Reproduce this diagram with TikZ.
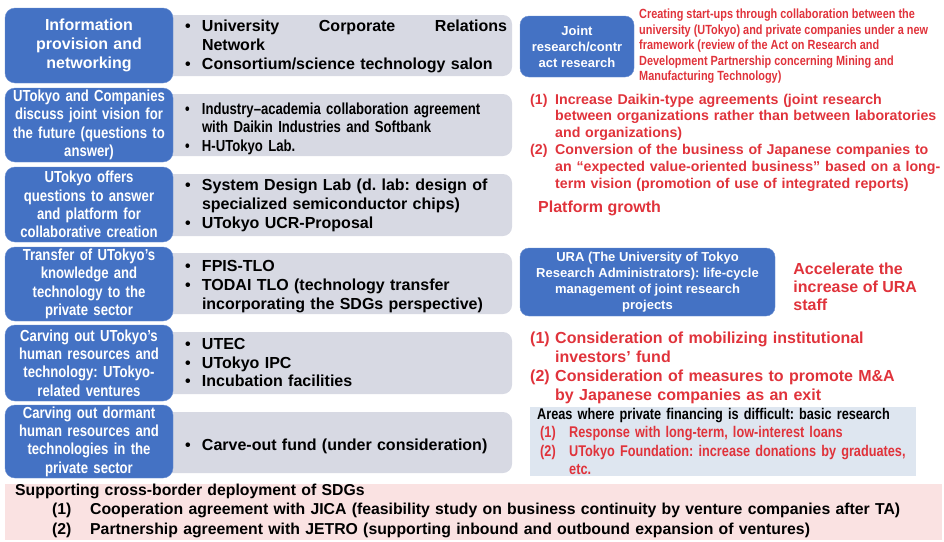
\documentclass[tikz,border=0pt]{standalone}
\usepackage{fontspec}
\setmainfont{Liberation Sans}
\newfontfamily\narrowsans[FakeStretch=0.82]{Liberation Sans}
\usetikzlibrary{positioning, calc}
\definecolor{roleblue}{HTML}{4472C4}
\definecolor{toolgrey}{HTML}{D7D9E3}
\definecolor{alertred}{HTML}{E0333B}
\definecolor{notebg}{HTML}{DEE6F0}
\definecolor{sdgbg}{HTML}{FAE2E2}
\frenchspacing
% list entry: indent, label width, label
\newcommand{\listitem}[3]{\par\noindent\hangindent=\dimexpr#1+#2\relax\hangafter=1\hspace*{#1}\makebox[#2][l]{#3}\ignorespaces}
\newcommand{\bul}{\listitem{0pt}{17pt}{\textbullet}}
\tikzset{
    rolebox/.style={rectangle, draw=roleblue!80!white, fill=roleblue, rounded corners=10pt, minimum width=168pt, text width=162pt, inner sep=0pt, align=center, text=white, font=\narrowsans\bfseries\fontsize{16}{18.3}\selectfont},
    toolbar/.style={rectangle, fill=toolgrey, rounded corners=9pt, minimum width=352pt, inner sep=0pt},
    tooltext/.style={anchor=west, inner sep=0pt, text width=322pt, align=left, font=\bfseries\fontsize{16}{18.8}\selectfont},
    infobox/.style={rectangle, draw=roleblue!80!white, fill=roleblue, rounded corners=9pt, inner sep=0pt, align=center, text=white, font=\bfseries\fontsize{13}{16}\selectfont},
    redtext/.style={inner sep=0pt, align=left, text=alertred, font=\bfseries\fontsize{16}{18.7}\selectfont},
    panel/.style={rectangle, inner sep=0pt}
}

\begin{document}
\begin{tikzpicture}[x=1pt, y=-1pt]
    \useasboundingbox (0,0) rectangle (944,541);
    % grey bars behind the blue boxes
    \node [toolbar, minimum height=61pt] (g1) at (336,45.5) {};
    \node [toolbar, minimum height=62pt] (g2) at (336,125) {};
    \node [toolbar, minimum height=62pt] (g3) at (336,205) {};
    \node [toolbar, minimum height=61pt] (g4) at (336,283.5) {};
    \node [toolbar, minimum height=62pt] (g5) at (336,363) {};
    \node [toolbar, minimum height=61pt] (g6) at (336,442.5) {};

    \node [tooltext, yshift=3pt] (t1) at ([xshift=25pt]g1.west) {\bul University\hfill Corporate\hfill Relations\newline Network\bul Consortium/science technology salon\par};
    \node [tooltext, font=\narrowsans\bfseries\fontsize{16}{18.5}\selectfont] (t2) at ([xshift=25pt]g2.west) {\bul Industry–academia collaboration agreement\newline with Daikin Industries and Softbank\bul H-UTokyo Lab.\par};
    \node [tooltext, yshift=3pt] (t3) at ([xshift=25pt]g3.west) {\bul System Design Lab (d. lab: design of\newline specialized semiconductor chips)\bul UTokyo UCR-Proposal\par};
    \node [tooltext, yshift=1pt] (t4) at ([xshift=25pt]g4.west) {\bul FPIS-TLO\bul TODAI TLO (technology transfer\newline incorporating the SDGs perspective)\par};
    \node [tooltext, yshift=4pt, font=\bfseries\fontsize{16}{18.5}\selectfont] (t5) at ([xshift=25pt]g5.west) {\bul UTEC\bul UTokyo IPC\bul Incubation facilities\par};
    \node [tooltext] (t6) at ([xshift=25pt]g6.west) {\bul Carve-out fund (under consideration)\par};

    % blue boxes on the left
    \node [rolebox, minimum height=75pt, font=\bfseries\fontsize{16}{19}\selectfont] (info) at (89,45.5) {Information\\provision and\\networking};
    \node [rolebox, minimum height=74pt] (vision) at (89,125) {UTokyo and Companies\\discuss joint vision for\\the future (questions to\\answer)};
    \node [rolebox, minimum height=75pt] (offer) at (89,204.5) {UTokyo offers\\questions to answer\\and platform for\\collaborative creation};
    \node [rolebox, minimum height=74pt] (transfer) at (89,284) {Transfer of UTokyo’s\\knowledge and\\technology to the\\private sector};
    \node [rolebox, minimum height=76pt] (venture) at (89,363) {Carving out UTokyo’s\\human resources and\\technology: UTokyo-\\related ventures};
    \node [rolebox, minimum height=73pt] (dormant) at (89,441.5) {Carving out dormant\\human resources and\\technologies in the\\private sector};

    % right column
    \node [infobox, minimum width=114pt, minimum height=61pt] (joint) at (577,46.5) {Joint\\research/contr\\act research};
    \node [redtext, anchor=north west, font=\narrowsans\bfseries\fontsize{13.3}{15.5}\selectfont] (frame) at (639,9) {Creating start-ups through collaboration between the\\university (UTokyo) and private companies under a new\\framework (review of the Act on Research and\\Development Partnership concerning Mining and\\Manufacturing Technology)};
    \node [redtext, anchor=north west, text width=430pt, font=\bfseries\fontsize{14.2}{16.8}\selectfont] (daikin) at (530,87) {\listitem{0pt}{25pt}{(1)}Increase Daikin-type agreements (joint research\newline between organizations rather than between laboratories\newline and organizations)\listitem{0pt}{25pt}{(2)}Conversion of the business of Japanese companies to\newline an “expected value-oriented business” based on a long-\newline term vision (promotion of use of integrated reports)\par};
    \node [redtext, anchor=west] (growth) at (538,208) {Platform growth};

    \node [infobox, minimum width=255pt, minimum height=68pt] (ura) at (647.5,282) {URA (The University of Tokyo\\Research Administrators): life-cycle\\management of joint research\\projects};
    \node [redtext, right=18pt of ura, yshift=-5pt, font=\bfseries\fontsize{16}{18}\selectfont] (accel) {Accelerate the\\increase of URA\\staff};

    \node [redtext, anchor=north west, text width=420pt] (exit) at (530,325) {\listitem{0pt}{25pt}{(1)}Consideration of mobilizing institutional\newline investors’ fund\listitem{0pt}{25pt}{(2)}Consideration of measures to promote M\&A\newline by Japanese companies as an exit\par};

    \node [panel, fill=notebg, minimum width=386pt, minimum height=69pt] (basic) at (723,441.5) {};
    \node [anchor=north west, inner sep=0pt, text width=380pt, align=left, font=\narrowsans\bfseries\fontsize{15.5}{18.3}\selectfont] (basictext) at (537,408) {Areas where private financing is difficult: basic research{\color{alertred}\listitem{3pt}{29pt}{(1)}Response with long-term, low-interest loans\listitem{3pt}{29pt}{(2)}UTokyo Foundation: increase donations by graduates,\newline etc.\par}};

    % bottom band
    \node [panel, fill=sdgbg, minimum width=937pt, minimum height=56pt] (sdg) at (473.5,512) {};
    \node [anchor=north west, inner sep=0pt, text width=925pt, align=left, font=\bfseries\fontsize{15.8}{19.5}\selectfont] (sdgtext) at (15,483.5) {Supporting cross-border deployment of SDGs\listitem{37pt}{38pt}{(1)}Cooperation agreement with JICA (feasibility study on business continuity by venture companies after TA)\listitem{37pt}{38pt}{(2)}Partnership agreement with JETRO (supporting inbound and outbound expansion of ventures)\par};
\end{tikzpicture}
\end{document}
